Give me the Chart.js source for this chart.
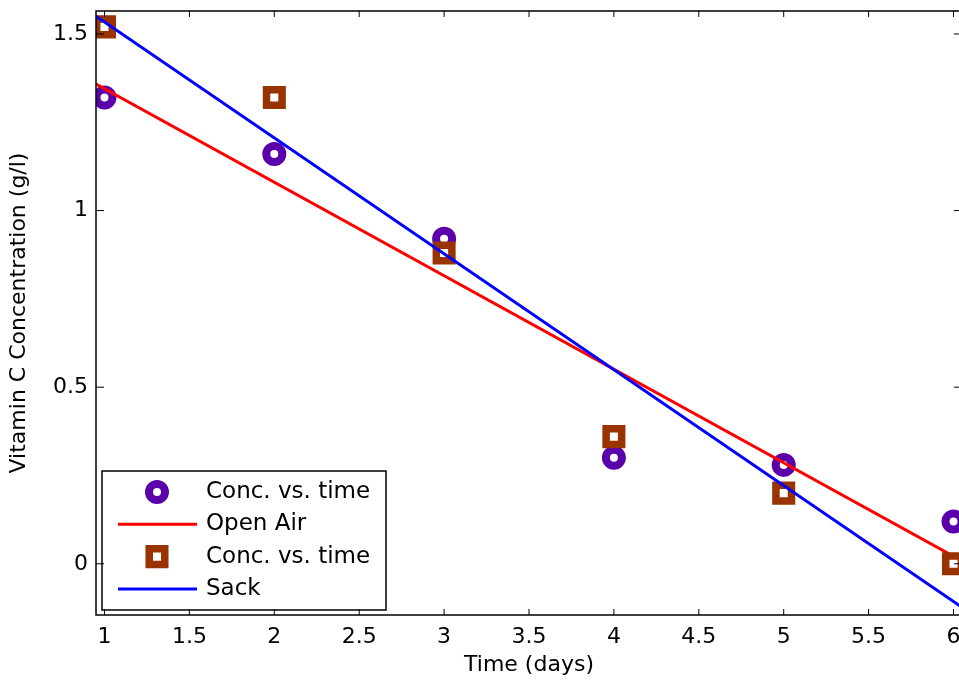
<!DOCTYPE html>
<html>
<head>
<meta charset="utf-8">
<script src="https://cdn.jsdelivr.net/npm/chart.js@4.4.0/dist/chart.umd.min.js"></script>
<style>
  html, body { margin: 0; padding: 0; overflow: hidden; background: #fff; }
  canvas { display: block; }
</style>
</head>
<body>
<canvas id="vitChart" width="1000" height="681"></canvas>
<script>
var days = [1, 2, 3, 4, 5, 6];
var openAir = [1.32, 1.16, 0.92, 0.30, 0.28, 0.12];
var sack = [1.52, 1.32, 0.88, 0.36, 0.20, 0.00];
var fitDays = [0.95, 6.05];
var openAirFit = [1.358, 0.008];
var sackFit = [1.550, -0.123];
var xTicks = [1, 1.5, 2, 2.5, 3, 3.5, 4, 4.5, 5, 5.5, 6];
var yTicks = [0, 0.5, 1, 1.5];
var legendLabels = ['Conc. vs. time', 'Open Air', 'Conc. vs. time', 'Sack'];

var FONT = 'DejaVu Sans';

function pairs(xs, ys) {
    return xs.map(function (x, i) { return { x: x, y: ys[i] }; });
}

// box with inward ticks on all sides + legend inside the axes
var boxPlugin = {
    id: 'matlabBox',
    afterDraw: function (chart) {
        var ctx = chart.ctx, a = chart.chartArea;
        var xs = chart.scales.x, ys = chart.scales.y;
        ctx.save();

        // legend
        var lx = a.left + 6, ly = a.bottom - 144, lw = 284, lh = 139;
        ctx.fillStyle = '#fff';
        ctx.fillRect(lx, ly, lw, lh);
        ctx.strokeStyle = '#000';
        ctx.lineWidth = 1.5;
        ctx.strokeRect(lx, ly, lw, lh);
        chart.data.datasets.forEach(function (ds, i) {
            var cy = ly + 21 + i * 32.3;
            if (ds.showLine) {
                ctx.strokeStyle = ds.borderColor;
                ctx.lineWidth = 3;
                ctx.beginPath();
                ctx.moveTo(lx + 16, cy);
                ctx.lineTo(lx + 95, cy);
                ctx.stroke();
            } else {
                ctx.fillStyle = ds.pointBackgroundColor;
                ctx.strokeStyle = ds.pointBorderColor;
                ctx.lineWidth = ds.pointBorderWidth;
                Chart.helpers.drawPoint(ctx, {
                    pointStyle: ds.pointStyle, radius: ds.pointRadius,
                    borderWidth: ds.pointBorderWidth, rotation: 0
                }, lx + 55, cy);
            }
            ctx.fillStyle = '#000';
            ctx.font = '23px "' + FONT + '"';
            ctx.textAlign = 'left';
            ctx.textBaseline = 'middle';
            ctx.fillText(legendLabels[i], lx + 104, cy);
        });

        // axes box
        ctx.strokeStyle = '#000';
        ctx.lineWidth = 1.5;
        ctx.strokeRect(a.left, a.top, a.right - a.left, a.bottom - a.top);
        ctx.lineWidth = 1;
        ctx.beginPath();
        xTicks.forEach(function (v) {
            var px = xs.getPixelForValue(v);
            ctx.moveTo(px, a.bottom); ctx.lineTo(px, a.bottom - 6);
            ctx.moveTo(px, a.top); ctx.lineTo(px, a.top + 6);
        });
        yTicks.forEach(function (v) {
            var py = ys.getPixelForValue(v);
            ctx.moveTo(a.left, py); ctx.lineTo(a.left + 8, py);
            ctx.moveTo(a.right, py); ctx.lineTo(a.right - 8, py);
        });
        ctx.stroke();
        ctx.restore();
    }
};

function plainLabel(v) { return String(v); }

var ctx = document.getElementById('vitChart');
new Chart(ctx, {
    type: 'scatter',
    data: {
        datasets: [{
            label: legendLabels[0],
            data: pairs(days, openAir),
            pointStyle: 'circle',
            pointRadius: 8,
            pointHoverRadius: 8,
            pointBorderWidth: 8,
            pointBackgroundColor: '#ffffff',
            pointBorderColor: '#5a00aa',
            backgroundColor: '#ffffff',
            borderColor: '#5a00aa',
            order: 4
        }, {
            label: legendLabels[1],
            data: pairs(fitDays, openAirFit),
            showLine: true,
            borderColor: '#ff0000',
            borderWidth: 3,
            pointRadius: 0,
            pointHoverRadius: 0,
            fill: false,
            order: 3
        }, {
            label: legendLabels[2],
            data: pairs(days, sack),
            pointStyle: 'rect',
            pointRadius: 11,
            pointHoverRadius: 11,
            pointBorderWidth: 7.5,
            pointBackgroundColor: '#ffffff',
            pointBorderColor: '#993300',
            backgroundColor: '#ffffff',
            borderColor: '#993300',
            order: 2
        }, {
            label: legendLabels[3],
            data: pairs(fitDays, sackFit),
            showLine: true,
            borderColor: '#0000ff',
            borderWidth: 3,
            pointRadius: 0,
            pointHoverRadius: 0,
            fill: false,
            order: 1
        }]
    },
    options: {
        responsive: false,
        animation: false,
        layout: { autoPadding: false, padding: { top: 11, right: 38, left: 0, bottom: 0 } },
        scales: {
            x: {
                type: 'linear',
                min: 0.95,
                max: 6.05,
                afterBuildTicks: function (s) { s.ticks = xTicks.map(function (v) { return { value: v }; }); },
                afterFit: function (s) { s.height = 66; s.paddingLeft = 0; s.paddingRight = 0; },
                grid: { display: false, drawTicks: false },
                border: { display: false },
                ticks: {
                    color: '#000', padding: 9, maxRotation: 0, autoSkip: false,
                    font: { family: FONT, size: 22 },
                    callback: plainLabel
                },
                title: {
                    display: true, text: 'Time (days)', color: '#000',
                    font: { family: FONT, size: 22 },
                    padding: { top: 0, bottom: 3 }
                }
            },
            y: {
                min: -0.145,
                max: 1.565,
                afterBuildTicks: function (s) { s.ticks = yTicks.map(function (v) { return { value: v }; }); },
                afterFit: function (s) { s.width = 96; s.paddingTop = 0; s.paddingBottom = 0; },
                grid: { display: false, drawTicks: false },
                border: { display: false },
                ticks: {
                    color: '#000', padding: 8, autoSkip: false,
                    font: { family: FONT, size: 22 },
                    callback: plainLabel
                },
                title: {
                    display: true, text: 'Vitamin C Concentration (g/l)', color: '#000',
                    font: { family: FONT, size: 22 },
                    padding: { top: 6, bottom: 0 }
                }
            }
        },
        plugins: {
            legend: { display: false },
            tooltip: { enabled: false }
        }
    },
    plugins: [boxPlugin]
});
</script>
</body>
</html>
